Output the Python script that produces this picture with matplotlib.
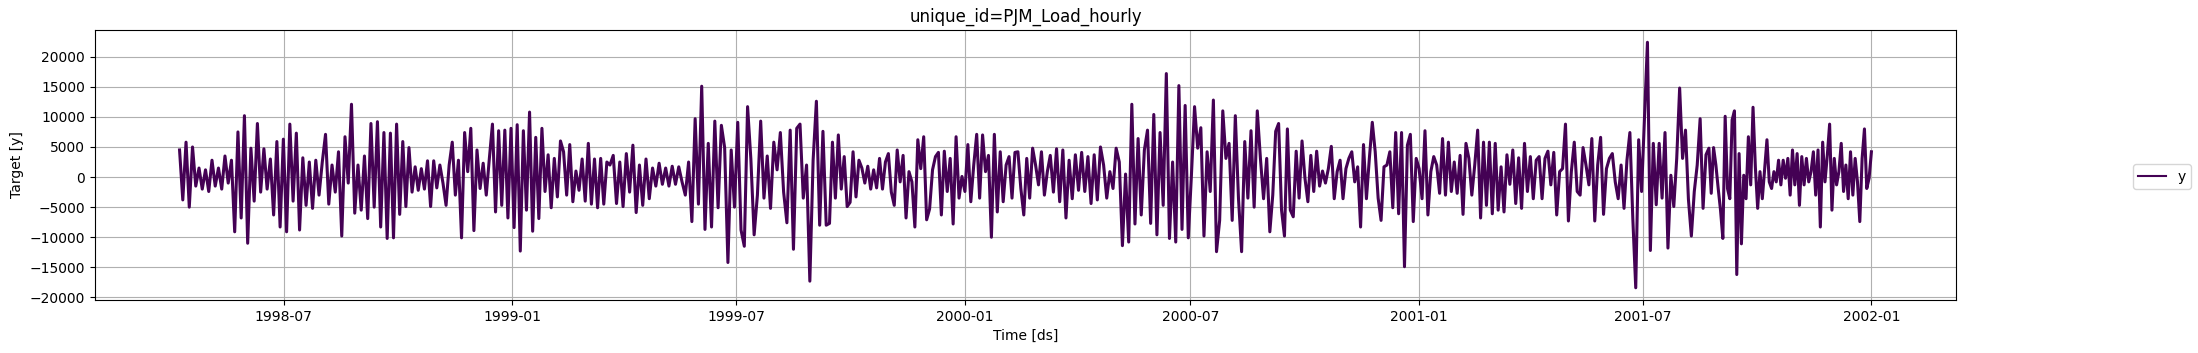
import numpy as np
import pandas as pd
import matplotlib
matplotlib.use("Agg")
import matplotlib.pyplot as plt
import matplotlib.dates as mdates

# segment boundaries (dates) and values, in thousands
seg_edges = ["1998-04-08", "1998-09-25", "1999-03-21", "1999-09-14", "2000-03-10",
             "2000-09-03", "2001-02-27", "2001-08-23", "2002-01-01"]

seg1 = [4.5, -3.8, 5.8, -5.0, 5.0,
        -1.5, 1.5, -2.0, 1.2, -2.4, 2.8, -1.5, 1.5, -2.0, 3.5, -1.0, 2.8,
        -9.1, 7.5, -6.8, 10.2, -11.0, 4.8, -4.0, 8.9, -2.5, 4.7, -2.0,
        3.0, -6.3, 5.9, -8.3, 6.3, -9.1, 8.8, -4.0, 7.3, -8.8,
        3.2, -4.7, 2.5, -5.2, 2.8, -3.0, 2.5, 7.1, -4.5, 2.0,
        -2.5, 4.2, -9.8, 6.7, -1.0, 12.1, -6.0, 2.0, -5.5, 3.5, -6.9, 8.9, -5.0, 9.2, -8.3, 7.4, -10.2]
seg2 = [7.3, -10.1, 8.8, -6.2, 5.9, -4.9, 4.9, -2.5,
        1.7, -2.2, 1.4, -2.0, 2.7, -4.9, 2.7, -1.8, 2.0, -1.0, -4.7, 2.0,
        5.8, -3.0, 2.8, -10.1, 7.4, 0.9, 8.1, -8.9, 4.5, -1.9, 2.3, -3.0, 3.1,
        8.8, -5.8, 7.7, -4.7, 7.8, -6.8, 8.1, -8.4, 8.7, -12.3, 7.7, -5.5, 10.8, -9.0, 6.6, -6.9, 8.1,
        -2.4, 3.7, -5.1, 3.1, -3.3, 6.0, 4.2, -3.0, 5.4, -4.1, 1.0, -2.2, 3.0, -4.0, 5.6, -4.5, 3.0,
        -5.1, 3.1, -4.5, 2.5]
seg3 = [2.0, 3.6, -4.4, 2.5, -4.9, 3.9, -2.5, 5.3, -5.9, 2.0, -4.7, 3.0, -3.6,
        1.5, -1.5, 2.3, -1.2, 1.5, -1.5, 1.8, -1.2, 1.7, -0.8, -3.0,
        2.5, -7.4, 9.7, -4.5, 15.1, -8.7, 5.6, -8.3, 9.3, -5.1, 8.6, 4.9, -14.2,
        4.5, -5.0, 9.1, -8.8, -11.5, 11.7, 3.0, -9.6, -3.0, 9.3, -3.5, 3.5,
        -5.2, 5.8, 1.2, 7.4, -2.5, -7.6, 7.8, -12.0, 8.1, 8.8, -3.5, 2.0, -17.3, 2.8, 12.6, -8.0, 7.6, -8.0]
seg4 = [-7.7, 5.8, -3.5, 7.0, -2.0, 3.4, -4.9, -4.2, 4.2, -3.3, 2.8,
        1.5, -1.0, 1.8, -2.0, 1.2, -1.8, 3.1, -2.0, 2.5,
        3.9, -2.5, -4.7, 4.5, -0.8, 3.6, -6.8, 0.9, -0.8, -8.3, 6.2, 1.4, 6.7, -7.1,
        -5.3, 1.2, 3.4, 4.1, -6.3, 4.3, -2.4, 3.1, -7.8, 6.7, -3.5, 0.1,
        -2.4, 5.4, -4.1, 2.0, 7.1, -3.5, 7.0, 0.9, 3.6, -10.0, 7.1,
        -5.8, 4.2, -4.1, 2.0, 3.4, -3.5, 4.1, 4.2, -1.9, -6.3, 3.1, -3.5, 4.8, 2.0, -1.3, 4.2, -3.0, 0.9]
seg5 = [3.6, -2.5, 4.7, -4.1, 4.5, -6.8, 2.8, -3.6, 3.7, -2.2, 4.1, -2.4, 3.4, -4.4, 3.7, -3.8,
        5.0, 2.0, -3.5, 0.9, -1.9, 4.8,
        2.5, -11.4, 0.5, -10.8, 12.1, -7.8, 6.4, -6.3, 4.5, 7.8, -7.7, 10.4, -9.6, 7.4, -4.7,
        17.2, -10.2, 2.5, -10.8, 15.2, -8.7, 11.9, -10.1, 0.3, 11.7, 4.8, 8.2,
        -9.8, 4.2, -2.4, 12.8, -12.4, -7.2, 11.0, 3.1, 5.6, -7.2, 10.2, -3.5, -12.4, 5.9, -3.5, 7.7,
        -5.0, 11.0, 3.1, -3.6, 3.1]
seg6 = [-9.1, -3.0, 7.6, 8.9, -5.5, -9.8, 8.0, -5.5, -6.6, 4.3, -3.5,
        6.0, -0.2, -4.1, 3.6, -2.4, 4.3, -1.5, 1.0, -1.0, 1.4,
        5.1, -3.6, 0.9, 2.8, -3.6, 1.4, 3.1, 4.2, -0.8, 1.7,
        -8.3, 5.4, -3.6, 3.1, 9.1, 4.2, -3.5, -7.2, 1.7, 2.0, 4.2, -5.1, 7.4, -6.1, 7.4,
        -14.9, 5.3, 7.1, -7.4, 3.1, 1.4, -3.6, 7.7, -6.3, 0.9, 3.4, 2.0, -2.7, 6.4,
        -3.0, 5.8, -2.4, 2.5, -2.7, 3.6, -6.2, 5.6, 3.1, -3.0, 2.0, 7.8, -6.8, 5.8, -4.7]
seg7 = [5.8, -6.1, 5.6, -5.5, 1.7, -5.8, 3.7, -1.2, 4.5, -4.4, 3.2, -5.2,
        5.6, -2.4, 3.4, -3.6, 2.8, 3.4, -3.6, 3.1, 4.3, -1.3, 4.1, -6.3, 0.9,
        1.4, 8.8, -7.3, 0.9, 5.8, -2.4, -3.0, 4.9, 2.0, -1.3, 6.4, -7.3,
        2.0, 6.6, -6.2, 1.4, 3.1, 3.9, -0.8, -3.6, 2.0, -5.2, 2.8, 7.4,
        -6.9, -18.4, 6.2, -2.4, 9.8, 22.4, -12.2, 5.6, -4.6, 5.6, -3.5, 7.4, -11.8,
        0.3, -4.9, 3.1, 14.8, 3.1, 7.8, -3.7, -9.8, -2.4, 2.0, 9.7, -5.2, 3.7]
seg8 = [4.8, -2.7, 4.9, 2.0, -1.9, -5.5, -10.2, 10.1, -1.9, -3.6, 9.5, 11.0, -16.2, 3.9, -11.1, 0.3, -3.6, 6.7,
        -1.3, 11.6, 1.7, -5.2, 0.9, -3.6, 1.4, 6.2, -0.8, -1.9, 0.9, -0.8, 2.8, -1.3, 2.8, -0.2, 3.1, -3.0,
        4.5, -1.3, 3.9, -4.7, 3.4, -1.3, 3.1, -0.8, 0.9, 4.2, -3.0, 4.5, -8.3, 5.8, -0.8, 3.6, 8.8, -5.5,
        3.1, -1.3, 0.9, 5.6, -2.4, 2.0, -3.6, 4.2, -3.0, 3.1, -0.8, -7.4, 3.1, 8.0, -1.9, -0.2, 4.2]

segments = [seg1, seg2, seg3, seg4, seg5, seg6, seg7, seg8]

ds = []
y = []
for i, seg in enumerate(segments):
    t0 = pd.Timestamp(seg_edges[i])
    t1 = pd.Timestamp(seg_edges[i + 1])
    if i == len(segments) - 1:
        ds.extend(pd.date_range(t0, t1, periods=len(seg)))
    else:
        ds.extend(pd.date_range(t0, t1, periods=len(seg) + 1)[:-1])
    y.extend(v * 1000 for v in seg)

fig = plt.figure(figsize=(21.98, 3.53), dpi=100)
ax = fig.add_axes([0.0432, 0.150, 0.8467, 0.765])
ax.plot(ds, y, color="#440154", lw=2.2, label="y")
ax.set_title("unique_id=PJM_Load_hourly")
ax.set_xlabel("Time [ds]")
ax.set_ylabel("Target [y]")
ax.xaxis.set_major_locator(mdates.MonthLocator(bymonth=[1, 7]))
ax.xaxis.set_major_formatter(mdates.DateFormatter("%Y-%m"))
ax.grid(True)
leg = fig.legend(loc="center right")
leg.get_lines()[0].set_linewidth(1.5)

fig.savefig("out.png", dpi=100)
